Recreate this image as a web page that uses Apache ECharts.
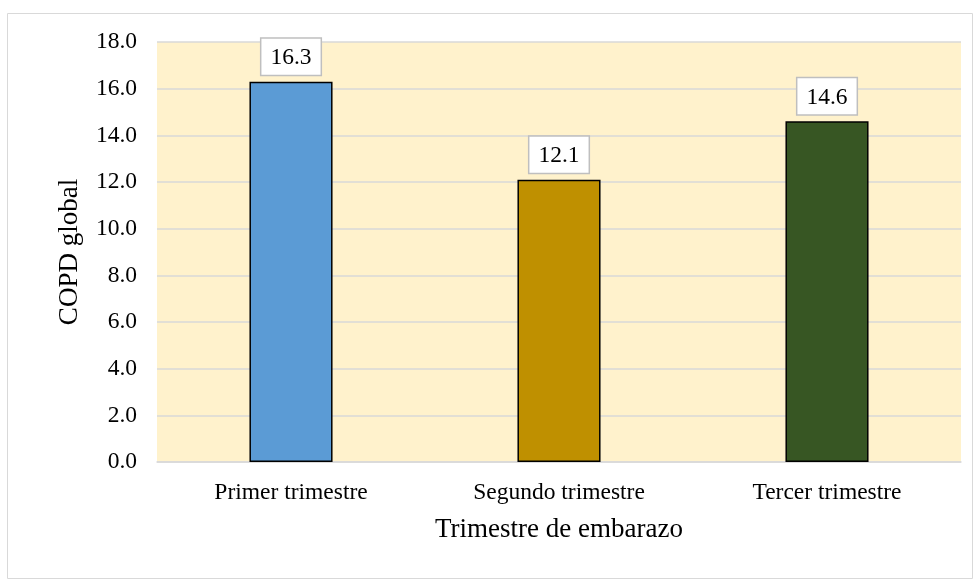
<!DOCTYPE html>
<html>
<head>
<meta charset="utf-8">
<script src="https://cdn.jsdelivr.net/npm/echarts@6/dist/echarts.min.js"></script>
<style>
  html, body { margin: 0; padding: 0; background: #fff; }
  #chart { width: 978px; height: 583px; }
</style>
</head>
<body>
<div id="chart"></div>
<script>
// data
const categories = ['Primer trimestre', 'Segundo trimestre', 'Tercer trimestre']
const values = [16.3, 12.1, 14.6]
const barColors = ['#5B9BD5', '#BF9000', '#375623']

const font = '"Liberation Serif", "Times New Roman", serif'

const chart = echarts.init(document.getElementById('chart'))
chart.setOption({
  animation: false,
  graphic: [
    {
      type: 'rect',
      shape: { x: 7.5, y: 13.5, width: 965, height: 565 },
      style: { fill: 'none', stroke: '#D9D9D9', lineWidth: 1 },
      silent: true
    }
  ],
  grid: {
    left: 157,
    right: 17,
    top: 42,
    bottom: 121,
    show: true,
    backgroundColor: '#FFF2CC',
    borderWidth: 0
  },
  xAxis: {
    type: 'category',
    data: categories,
    name: 'Trimestre de embarazo',
    nameLocation: 'middle',
    nameGap: 54,
    nameTextStyle: { fontFamily: font, fontSize: 27, color: '#000' },
    axisLine: { show: true, lineStyle: { color: '#D9D9D9', width: 1.5 } },
    axisTick: { show: false },
    axisLabel: { fontFamily: font, fontSize: 23.5, color: '#000', margin: 19 }
  },
  yAxis: {
    type: 'value',
    min: 0,
    max: 18,
    interval: 2,
    name: 'COPD global',
    nameLocation: 'middle',
    nameGap: 74,
    nameTextStyle: { fontFamily: font, fontSize: 27, color: '#000' },
    axisLine: { show: false },
    axisTick: { show: false },
    axisLabel: {
      fontFamily: font, fontSize: 23.5, color: '#000', margin: 20,
      formatter: v => v.toFixed(1)
    },
    splitLine: { lineStyle: { color: '#D9D9D9', width: 1.5 } }
  },
  series: [
    {
      type: 'bar',
      barWidth: '31%',
      data: values.map((v, i) => ({
        value: v,
        itemStyle: { color: barColors[i], borderColor: '#000', borderWidth: 1.5 }
      })),
      label: {
        show: true,
        position: 'top',
        distance: 7,
        formatter: p => p.value.toFixed(1),
        fontFamily: font,
        fontSize: 23.5,
        color: '#000',
        backgroundColor: '#fff',
        borderColor: '#BFBFBF',
        borderWidth: 1.5,
        padding: [7, 9, 5, 9]
      }
    }
  ]
})
</script>
</body>
</html>
